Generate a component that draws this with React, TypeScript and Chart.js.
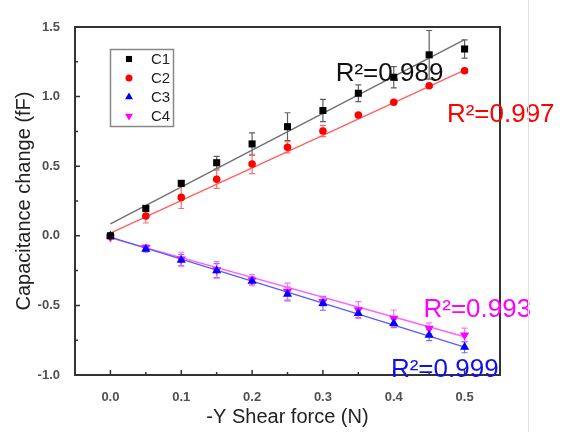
import React, { useEffect, useRef } from 'react';
import { Chart, registerables } from 'chart.js';

Chart.register(...registerables);

const forces = [0, 0.05, 0.1, 0.15, 0.2, 0.25, 0.3, 0.35, 0.4, 0.45, 0.5];
const c1 = [0, 0.197, 0.377, 0.525, 0.66, 0.784, 0.9, 1.024, 1.139, 1.3, 1.342];
const c1Err = [0.01, 0.02, 0.02, 0.045, 0.08, 0.1, 0.08, 0.06, 0.076, 0.175, 0.065];
const c2 = [0, 0.142, 0.276, 0.406, 0.516, 0.636, 0.753, 0.868, 0.959, 1.078, 1.186];
const c2Err = [0.01, 0.05, 0.08, 0.065, 0.07, 0.04, 0.04, 0.01, 0.01, 0.01, 0.01];
const c3 = [0, -0.095, -0.174, -0.25, -0.325, -0.418, -0.485, -0.557, -0.629, -0.713, -0.8];
const c3Err = [0.01, 0.02, 0.04, 0.05, 0.03, 0.05, 0.05, 0.03, 0.03, 0.04, 0.04];
const c4 = [-0.01, -0.085, -0.168, -0.245, -0.318, -0.4, -0.473, -0.533, -0.593, -0.665, -0.713];
const c4Err = [0.01, 0.02, 0.05, 0.06, 0.04, 0.06, 0.03, 0.06, 0.06, 0.04, 0.05];

const fitX = [0, 0.5];
const fitC1 = [0.086, 1.41];
const fitC2 = [0.02, 1.19];
const fitC3 = [-0.01, -0.8];
const fitC4 = [-0.015, -0.725];

const xTicks = [0, 0.1, 0.2, 0.3, 0.4, 0.5];
const xMinorTicks = [0.05, 0.15, 0.25, 0.35, 0.45];
const yTicks = [-1, -0.5, 0, 0.5, 1, 1.5];
const yMinorTicks = [-0.75, -0.25, 0.25, 0.75, 1.25];

const seriesNames = ['C1', 'C2', 'C3', 'C4'];
const r2Texts = ['R\u00B2=0.989', 'R\u00B2=0.997', 'R\u00B2=0.999', 'R\u00B2=0.993'];
// anchor (left, baseline) of each R² label, in data units
const r2AnchorX = [0.318, 0.475, 0.396, 0.442];
const r2AnchorY = [1.114, 0.814, -1.014, -0.586];

const FONT = '"Liberation Sans", Arial, Helvetica, sans-serif';
const markerColors = ['#000000', '#ff0000', '#0000ff', '#ff00ff'];
const fitColors = ['#707070', '#ff6060', '#5a5aff', '#ff60ff'];
const errColors = ['#606060', '#ff7070', '#7070ff', '#ff70ff'];
const pointStyles = ['rect', 'circle', 'triangle', 'triangle'];
const pointRadii = [5, 3.8, 5.3, 5.3];
const pointRotations = [0, 0, 0, 180];

function drawMarker(ctx: CanvasRenderingContext2D, style: string, x: number, y: number, r: number, rot: number, color: string) {
  ctx.save();
  ctx.fillStyle = color;
  ctx.beginPath();
  if (style === 'rect') {
    const s = r * Math.SQRT1_2;
    ctx.rect(x - s, y - s, 2 * s, 2 * s);
  } else if (style === 'circle') {
    ctx.arc(x, y, r, 0, Math.PI * 2);
  } else {
    const sign = rot === 180 ? -1 : 1;
    const h = r * 1.5;
    const w = r * Math.sqrt(3) / 2;
    ctx.moveTo(x, y - sign * r);
    ctx.lineTo(x - w, y - sign * (r - h));
    ctx.lineTo(x + w, y - sign * (r - h));
    ctx.closePath();
  }
  ctx.fill();
  ctx.restore();
}

const decorPlugin = {
  id: 'decor',
  beforeDatasetsDraw(chart: any) {
    const ctx: CanvasRenderingContext2D = chart.ctx;
    const xs = chart.scales.x;
    const ys = chart.scales.y;
    const errs = [c1Err, c2Err, c3Err, c4Err];
    const vals = [c1, c2, c3, c4];
    ctx.save();
    ctx.lineWidth = 1.2;
    for (let s = 0; s < 4; s++) {
      ctx.strokeStyle = errColors[s];
      for (let i = 0; i < forces.length; i++) {
        const px = xs.getPixelForValue(forces[i]);
        const top = ys.getPixelForValue(vals[s][i] + errs[s][i]);
        const bot = ys.getPixelForValue(vals[s][i] - errs[s][i]);
        ctx.beginPath();
        ctx.moveTo(px, top);
        ctx.lineTo(px, bot);
        ctx.moveTo(px - 3, top);
        ctx.lineTo(px + 3, top);
        ctx.moveTo(px - 3, bot);
        ctx.lineTo(px + 3, bot);
        ctx.stroke();
      }
    }
    ctx.restore();
  },
  afterDraw(chart: any) {
    const ctx: CanvasRenderingContext2D = chart.ctx;
    const { left, right, top, bottom } = chart.chartArea;
    const xs = chart.scales.x;
    const ys = chart.scales.y;
    ctx.save();
    // frame
    ctx.strokeStyle = '#333333';
    ctx.lineWidth = 2;
    ctx.strokeRect(left, top, right - left, bottom - top);
    // inward ticks
    ctx.lineWidth = 1.5;
    ctx.beginPath();
    xTicks.forEach((v) => {
      const p = xs.getPixelForValue(v);
      ctx.moveTo(p, bottom);
      ctx.lineTo(p, bottom - 5);
    });
    xMinorTicks.forEach((v) => {
      const p = xs.getPixelForValue(v);
      ctx.moveTo(p, bottom);
      ctx.lineTo(p, bottom - 3);
    });
    yTicks.forEach((v) => {
      const p = ys.getPixelForValue(v);
      ctx.moveTo(left, p);
      ctx.lineTo(left + 5, p);
    });
    yMinorTicks.forEach((v) => {
      const p = ys.getPixelForValue(v);
      ctx.moveTo(left, p);
      ctx.lineTo(left + 3, p);
    });
    ctx.stroke();

    // legend
    const lx = left + 35;
    const ly = top + 22;
    ctx.strokeStyle = '#888888';
    ctx.lineWidth = 1.5;
    ctx.strokeRect(lx + 0.5, ly + 0.5, 63, 77);
    ctx.font = `15px ${FONT}`;
    ctx.textBaseline = 'middle';
    ctx.textAlign = 'left';
    seriesNames.forEach((name, i) => {
      const cy = ly + 10 + i * 19;
      const r = i === 1 ? 3.5 : i === 0 ? 4.3 : 4.6;
      drawMarker(ctx, pointStyles[i], lx + 19, cy, r, pointRotations[i], markerColors[i]);
      ctx.fillStyle = '#222222';
      ctx.fillText(name, lx + 41, cy + 1);
    });

    // R² labels
    ctx.font = `26px ${FONT}`;
    ctx.textBaseline = 'alphabetic';
    r2Texts.forEach((t, i) => {
      const color = i === 0 ? '#111111' : i === 1 ? '#ff0000' : i === 2 ? '#1010ee' : '#ff00ff';
      ctx.fillStyle = color;
      ctx.fillText(t, xs.getPixelForValue(r2AnchorX[i]), ys.getPixelForValue(r2AnchorY[i]));
    });

    // faint border line on the right of the picture
    ctx.strokeStyle = '#e2e2e2';
    ctx.lineWidth = 1;
    ctx.beginPath();
    ctx.moveTo(528.5, 0);
    ctx.lineTo(528.5, chart.height);
    ctx.stroke();
    ctx.restore();
  },
};

export default function App() {
  const ref = useRef<HTMLCanvasElement | null>(null);

  useEffect(() => {
    if (!ref.current) return;
    const series = [c1, c2, c3, c4];
    const fits = [fitC1, fitC2, fitC3, fitC4];
    const datasets: any[] = [];
    series.forEach((vals, s) => {
      datasets.push({
        label: seriesNames[s],
        data: forces.map((x, i) => ({ x, y: vals[i] })),
        pointStyle: pointStyles[s],
        pointRadius: pointRadii[s],
        pointRotation: pointRotations[s],
        pointBackgroundColor: markerColors[s],
        pointBorderColor: markerColors[s],
        pointBorderWidth: 0,
        backgroundColor: markerColors[s],
        borderColor: markerColors[s],
        showLine: false,
        order: 0,
      });
    });
    fits.forEach((f, s) => {
      datasets.push({
        label: seriesNames[s] + ' fit',
        data: fitX.map((x, i) => ({ x, y: f[i] })),
        showLine: true,
        pointRadius: 0,
        borderColor: fitColors[s],
        borderWidth: 1.4,
        fill: false,
        order: 1,
      });
    });

    const tickFont = { family: FONT, size: 13, weight: 'bold' as const };
    const chart = new Chart(ref.current, {
      type: 'scatter',
      data: { datasets },
      options: {
        responsive: false,
        animation: false,
        devicePixelRatio: 1,
        layout: { padding: { left: 0, right: 67, top: 27, bottom: 0 } },
        plugins: { legend: { display: false }, tooltip: { enabled: false } },
        scales: {
          x: {
            type: 'linear',
            min: -0.05,
            max: 0.55,
            afterBuildTicks: (s: any) => {
              s.ticks = xTicks.map((v) => ({ value: v }));
            },
            afterFit: (s: any) => {
              s.height = 57;
            },
            grid: { display: false },
            border: { display: false },
            ticks: {
              padding: 7,
              font: tickFont,
              color: '#505050',
              callback: (v: any) => Number(v).toFixed(1),
            },
            title: {
              display: true,
              text: '-Y Shear force (N)',
              font: { family: FONT, size: 20 },
              color: '#222222',
              padding: { top: 0, bottom: 3 },
            },
          },
          y: {
            type: 'linear',
            min: -1,
            max: 1.5,
            afterBuildTicks: (s: any) => {
              s.ticks = yTicks.map((v) => ({ value: v }));
            },
            afterFit: (s: any) => {
              s.width = 75;
            },
            grid: { display: false },
            border: { display: false },
            ticks: {
              padding: 7,
              font: tickFont,
              color: '#505050',
              callback: (v: any) => Number(v).toFixed(1),
            },
            title: {
              display: true,
              text: 'Capacitance change (fF)',
              font: { family: FONT, size: 20 },
              color: '#222222',
              padding: { top: 12, bottom: 0 },
            },
          },
        },
      },
      plugins: [decorPlugin],
    });
    return () => chart.destroy();
  }, []);

  return (
    <div style={{ position: 'fixed', left: 0, top: 0, width: 567, height: 432, background: '#ffffff' }}>
      <canvas ref={ref} width={567} height={432} style={{ width: 567, height: 432 }} />
    </div>
  );
}
